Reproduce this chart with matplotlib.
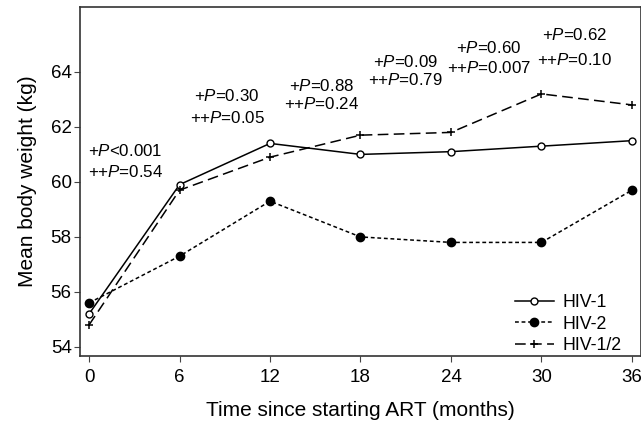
import matplotlib.pyplot as plt

plt.rcParams['font.family'] = ['Liberation Sans', 'DejaVu Sans']
plt.rcParams['mathtext.fontset'] = 'custom'
plt.rcParams['mathtext.it'] = 'Liberation Sans:italic'
plt.rcParams['mathtext.rm'] = 'Liberation Sans'

months = [0, 6, 12, 18, 24, 30, 36]
hiv1 = [55.2, 59.9, 61.4, 61.0, 61.1, 61.3, 61.5]
hiv2 = [55.6, 57.3, 59.3, 58.0, 57.8, 57.8, 59.7]
hiv12 = [54.8, 59.7, 60.9, 61.7, 61.8, 63.2, 62.8]

# p-value annotations: (x, y of first line, text1, y of second line, text2)
p_labels = [
    (2.4, 61.13, '+$P$<0.001', 60.36, '++$P$=0.54'),
    (9.15, 63.13, '+$P$=0.30', 62.33, '++$P$=0.05'),
    (15.4, 63.5, '+$P$=0.88', 62.85, '++$P$=0.24'),
    (21.0, 64.36, '+$P$=0.09', 63.7, '++$P$=0.79'),
    (26.5, 64.87, '+$P$=0.60', 64.14, '++$P$=0.007'),
    (32.2, 65.35, '+$P$=0.62', 64.44, '++$P$=0.10'),
]

fig = plt.figure(figsize=(6.41, 4.21), dpi=100)
ax = fig.add_axes([80 / 641, 1 - 356 / 421, 561 / 641, 349 / 421])

ax.plot(months, hiv1, '-', color='black', lw=1.1, marker='o', ms=5,
        mfc='white', mec='black', mew=1.0, label='HIV-1')
ax.plot(months, hiv2, color='black', lw=1.1, dashes=(2.5, 1.8), marker='o', ms=6,
        mfc='black', mec='black', label='HIV-2')
ax.plot(months, hiv12, color='black', lw=1.1, dashes=(7, 3.5), marker='+', ms=6,
        mew=1.1, label='HIV-1/2')

for x, y1, t1, y2, t2 in p_labels:
    ax.text(x, y1, t1, ha='center', va='center', fontsize=12.2)
    ax.text(x, y2, t2, ha='center', va='center', fontsize=12.2)

ax.set_xlim(-0.6, 36.6)
ax.set_ylim(53.67, 66.36)
ax.set_xticks(months)
ax.set_yticks([54, 56, 58, 60, 62, 64])
ax.tick_params(labelsize=13.5, length=4, color='#444444')
ax.tick_params(axis='x', pad=5)
ax.tick_params(axis='y', pad=2)
for s in ax.spines.values():
    s.set_color('#333333')
    s.set_linewidth(1.2)

ax.set_xlabel('Time since starting ART (months)', fontsize=15, labelpad=11)
ax.set_ylabel('Mean body weight (kg)', fontsize=15, labelpad=10)

ax.legend(loc='lower right', frameon=False, fontsize=12.8, handlelength=2.2,
          handletextpad=0.5, labelspacing=0.25, borderaxespad=0.2,
          bbox_to_anchor=(0.985, -0.025))

fig.savefig('out.png', dpi=100)
